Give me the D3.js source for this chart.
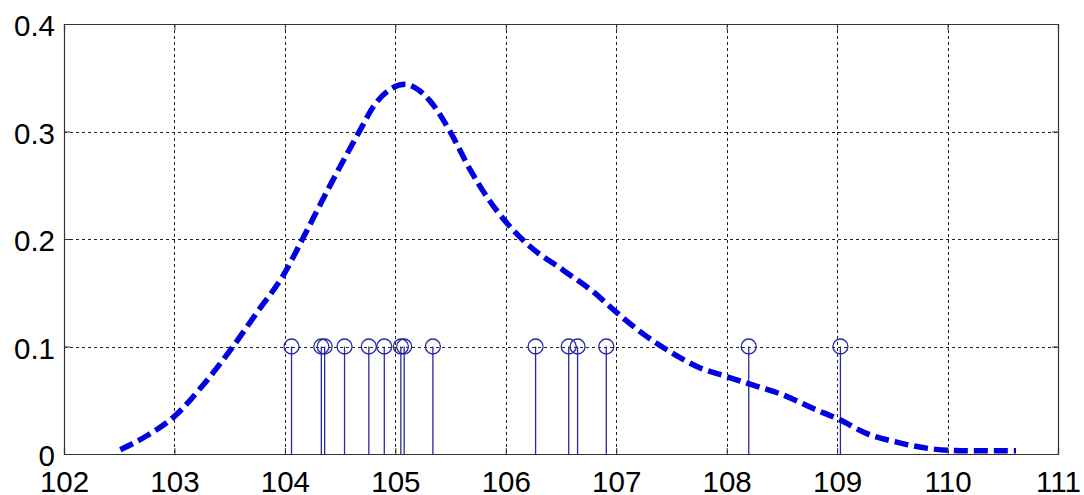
<!DOCTYPE html>
<html>
<head>
<meta charset="utf-8">
<script src="https://cdn.jsdelivr.net/npm/d3@7"></script>
<style>
  html, body { margin: 0; padding: 0; background: #fff; }
  svg { display: block; }
  text { font-family: "Liberation Sans", Arial, sans-serif; fill: #000; }
</style>
</head>
<body>
<svg id="chart" width="1084" height="495"></svg>
<script>
// Sample observations (stem markers)
const samples = [104.06, 104.33, 104.36, 104.54, 104.76, 104.90, 105.05, 105.08,
                 105.34, 106.27, 106.57, 106.65, 106.91, 108.20, 109.03];
const stemHeight = 0.1;

// Estimated density curve
const densityX = [102.51, 102.75, 103.00, 103.25, 103.53, 103.75, 103.99, 104.17, 104.42,
                  104.68, 104.80, 104.95, 105.09, 105.19, 105.31, 105.49, 105.68, 105.83,
                  106.00, 106.22, 106.52, 106.79, 107.00, 107.24, 107.49, 107.76, 108.00,
                  108.24, 108.51, 108.78, 109.02, 109.27, 109.54, 109.84, 110.14, 110.62];
const densityY = [0.004, 0.017, 0.035, 0.063, 0.100, 0.132, 0.167, 0.202, 0.252,
                  0.301, 0.323, 0.339, 0.344, 0.340, 0.329, 0.301, 0.264, 0.239,
                  0.216, 0.193, 0.171, 0.151, 0.132, 0.112, 0.095, 0.080, 0.072,
                  0.064, 0.055, 0.0425, 0.032, 0.019, 0.011, 0.005, 0.003, 0.003];

// Axis ticks
const xTicks = [102, 103, 104, 105, 106, 107, 108, 109, 110, 111];
const yTicks = [0, 0.1, 0.2, 0.3, 0.4];
const yTickLabels = ["0", "0.1", "0.2", "0.3", "0.4"];

const svg = d3.select("#chart");
const plotLeft = 64, plotRight = 1058, plotTop = 24, plotBottom = 454;

const x = d3.scaleLinear().domain([102, 111]).range([plotLeft, plotRight]);
const y = d3.scaleLinear().domain([0, 0.4]).range([plotBottom, plotTop]);

// Grid lines (dotted)
const grid = svg.append("g").attr("stroke", "#222").attr("stroke-width", 1)
  .attr("stroke-dasharray", "3,3").attr("shape-rendering", "crispEdges");
grid.selectAll("line.gx").data(xTicks.slice(1, -1)).join("line")
  .attr("x1", d => Math.round(x(d)) + 0.5).attr("x2", d => Math.round(x(d)) + 0.5)
  .attr("y1", plotTop).attr("y2", plotBottom);
grid.selectAll("line.gy").data(yTicks.slice(1, -1)).join("line")
  .attr("x1", plotLeft).attr("x2", plotRight)
  .attr("y1", d => Math.round(y(d)) + 0.5).attr("y2", d => Math.round(y(d)) + 0.5);

// Stems with open circles
const stems = svg.append("g");
stems.selectAll("line").data(samples).join("line")
  .attr("x1", d => x(d)).attr("x2", d => x(d))
  .attr("y1", y(0)).attr("y2", y(stemHeight))
  .attr("stroke", "#2a2aa0").attr("stroke-width", 1.3);
stems.selectAll("circle").data(samples).join("circle")
  .attr("cx", d => x(d)).attr("cy", y(stemHeight)).attr("r", 7.5)
  .attr("fill", "none").attr("stroke", "#2a2aa0").attr("stroke-width", 1.3);

// Density curve (thick dashed)
const pts = densityX.map((v, i) => [v, densityY[i]]);
svg.append("path")
  .datum(pts)
  .attr("d", d3.line().x(d => x(d[0])).y(d => y(d[1])).curve(d3.curveMonotoneX))
  .attr("fill", "none").attr("stroke", "#0000e0").attr("stroke-width", 5.5)
  .attr("stroke-dasharray", "14,6");

// Axes: x at bottom, y at left, with inward ticks
const xAxis = d3.axisBottom(x).tickValues(xTicks).tickSize(-6).tickPadding(17)
  .tickFormat(d3.format("d"));
const gx = svg.append("g").attr("transform", `translate(0,${plotBottom})`).call(xAxis);
const yAxis = d3.axisLeft(y).tickValues(yTicks).tickSize(-6).tickPadding(9)
  .tickFormat((d, i) => yTickLabels[i]);
const gy = svg.append("g").attr("transform", `translate(${plotLeft},0)`).call(yAxis);

// Mirrored ticks on top and right edges
svg.append("g").attr("transform", `translate(0,${plotTop})`)
  .call(d3.axisTop(x).tickValues(xTicks).tickSize(-6).tickFormat(""));
svg.append("g").attr("transform", `translate(${plotRight},0)`)
  .call(d3.axisRight(y).tickValues(yTicks).tickSize(-6).tickFormat(""));

svg.selectAll(".domain").attr("stroke", "#333").attr("stroke-width", 1.2);
svg.selectAll(".tick line").attr("stroke", "#333");
svg.selectAll(".tick text").attr("font-size", 29.5)
  .attr("font-family", "'Liberation Sans', Arial, sans-serif").attr("fill", "#000");
gx.selectAll(".tick text").attr("dy", "0.71em");
gy.selectAll(".tick text").attr("dy", "0.40em");
</script>
</body>
</html>
